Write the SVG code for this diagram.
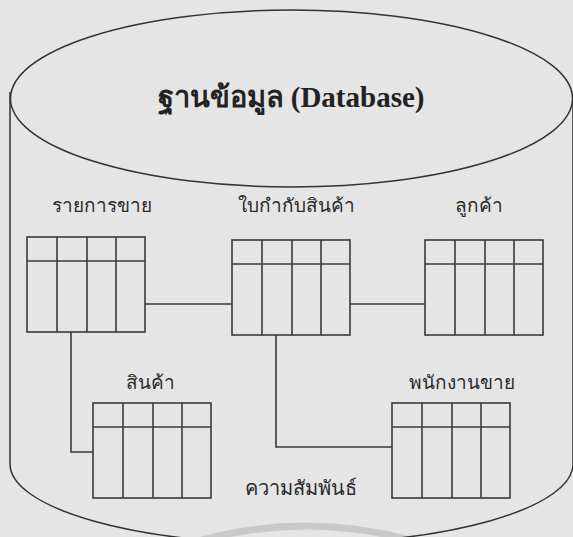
<svg xmlns="http://www.w3.org/2000/svg" width="573" height="537" viewBox="0 0 573 537">
<style>
.bg{fill:#e5e5e5}
.cyl{fill:none;stroke:#333;stroke-width:1.5}
.tb{fill:none;stroke:#3a3a3a;stroke-width:1.6}
.cn{fill:none;stroke:#3a3a3a;stroke-width:1.6}
.lbl{font-family:"Noto Sans","DejaVu Sans",sans-serif;font-size:19px;fill:#2a2a2a;text-anchor:middle}
.title{font-family:"Liberation Serif","Noto Sans",serif;font-size:29px;font-weight:bold;fill:#222;text-anchor:middle}
</style>
<defs>
<g id="table">
<rect x="0" y="0" width="118" height="95" class="tb"/>
<line x1="0" y1="24" x2="118" y2="24" class="tb"/>
<line x1="30" y1="0" x2="30" y2="95" class="tb"/>
<line x1="60" y1="0" x2="60" y2="95" class="tb"/>
<line x1="89" y1="0" x2="89" y2="95" class="tb"/>
</g>
</defs>
<rect class="bg" x="0" y="0" width="573" height="537"/>
<path d="M195,542 Q306,510 417,542" fill="none" stroke="#c9c9c9" stroke-width="7"/>
<g id="database">
<path class="cyl" d="M10,92 L10,464 A281,80 0 0 0 573,464 L573,98"/>
<ellipse class="cyl" cx="291.5" cy="98.5" rx="281" ry="88.5"/>
<text class="title" x="291" y="107">ฐานข้อมูล (Database)</text>
</g>
<g id="connectors">
<line class="cn" x1="145" y1="304" x2="232" y2="304"/>
<line class="cn" x1="350" y1="304" x2="425" y2="304"/>
<polyline class="cn" points="71,332 71,452 93,452"/>
<polyline class="cn" points="276,335 276,447 392,447"/>
</g>
<g id="node-sales-items">
<text class="lbl" x="102" y="212">รายการขาย</text>
<use href="#table" x="27" y="237"/>
</g>
<g id="node-invoice">
<text class="lbl" x="296" y="212">ใบกำกับสินค้า</text>
<use href="#table" x="232" y="240"/>
</g>
<g id="node-customer">
<text class="lbl" x="479" y="212">ลูกค้า</text>
<use href="#table" x="425" y="240"/>
</g>
<g id="node-product">
<text class="lbl" x="150" y="389">สินค้า</text>
<use href="#table" x="93" y="403"/>
</g>
<g id="node-salesperson">
<text class="lbl" x="462" y="389">พนักงานขาย</text>
<use href="#table" x="392" y="403"/>
</g>
<g id="relationship">
<text class="lbl" x="301" y="495" style="font-size:20px">ความสัมพันธ์</text>
</g>
</svg>
